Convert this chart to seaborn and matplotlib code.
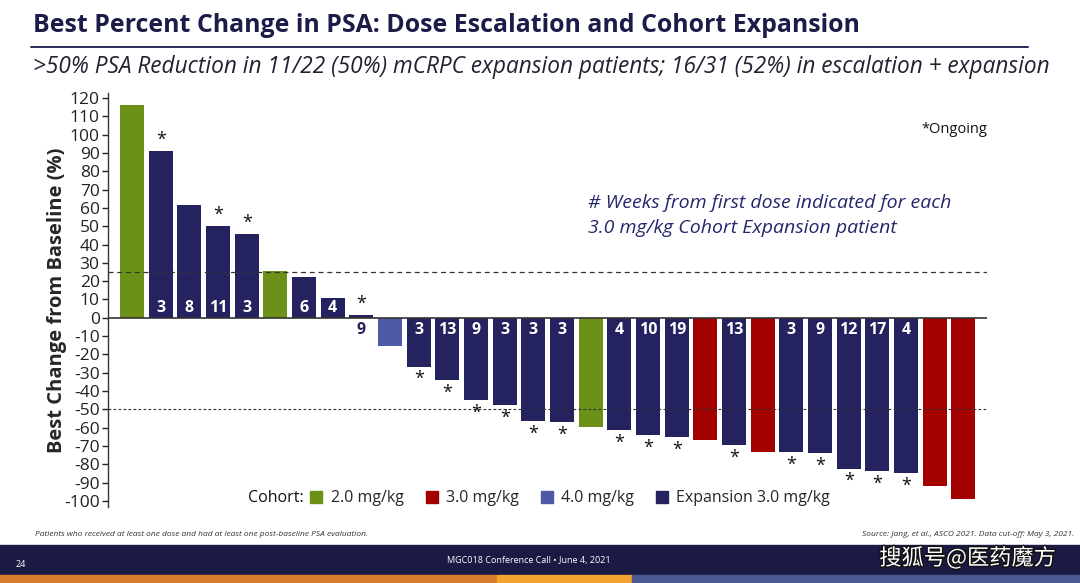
import matplotlib
matplotlib.use('Agg')
import matplotlib.pyplot as plt
import matplotlib.patheffects as pe
from matplotlib.lines import Line2D
from matplotlib.patches import Rectangle
import pandas as pd
import seaborn as sns

# Best % change in PSA per patient (waterfall order)
values = [116, 91, 61.5, 50, 46, 25.5, 22, 10.7, 1.8, -15.6,
          -26.6, -33.8, -44.7, -47.6, -56.5, -56.7, -59.3, -61.3, -63.8, -64.9,
          -66.7, -69.3, -73.3, -73.3, -73.6, -82.2, -83.5, -84.9, -91.5, -98.9]
cohorts = ['2.0', 'Exp', 'Exp', 'Exp', 'Exp', '2.0', 'Exp', 'Exp', 'Exp', '4.0',
           'Exp', 'Exp', 'Exp', 'Exp', 'Exp', 'Exp', '2.0', 'Exp', 'Exp', 'Exp',
           '3.0', 'Exp', '3.0', 'Exp', 'Exp', 'Exp', 'Exp', 'Exp', '3.0', '3.0']
# weeks from first dose (expansion patients only)
weeks = ['', '3', '8', '11', '3', '', '6', '4', '9', '',
         '3', '13', '9', '3', '3', '3', '', '4', '10', '19',
         '', '13', '', '3', '9', '12', '17', '4', '', '']
ongoing = [0, 1, 0, 1, 1, 0, 0, 0, 1, 0,
           1, 1, 1, 1, 1, 1, 0, 1, 1, 1,
           0, 1, 0, 1, 1, 1, 1, 1, 0, 0]
yticks = list(range(-100, 121, 10))

cohort_colors = {'2.0': '#6b9119', '3.0': '#a30000', '4.0': '#4f5aa6', 'Exp': '#24225f'}
legend_labels = ['2.0 mg/kg', '3.0 mg/kg', '4.0 mg/kg', 'Expansion 3.0 mg/kg']

df = pd.DataFrame({'patient': range(len(values)), 'change': values, 'cohort': cohorts})

sns.set_style('white')
plt.rcParams['font.family'] = ['Open Sans', 'DejaVu Sans']

fig = plt.figure(figsize=(10.8, 5.83), dpi=100)
ax = fig.add_axes([0.1, 0.131, 0.814, 0.709])

sns.barplot(data=df, x='patient', y='change', hue='cohort', palette=cohort_colors,
            dodge=False, width=0.84, legend=False, ax=ax, edgecolor='none', saturation=1)

ax.set_xlim(-0.84, 29.83)
ax.set_ylim(-103, 122.5)
ax.set_yticks(yticks)
ax.set_yticklabels([str(t) for t in yticks])
ax.tick_params(axis='y', labelsize=12.5, length=4, width=1, direction='out', pad=2,
               colors='#222222', left=True)
ax.set_xticks([])
ax.set_xlabel('')
ax.set_ylabel('Best Change from Baseline (%)', fontsize=14.5, fontweight='bold')
ax.yaxis.set_label_coords(-0.047, 0.5)
for s in ['top', 'right', 'bottom']:
    ax.spines[s].set_visible(False)
ax.spines['left'].set_color('#333333')
ax.spines['left'].set_linewidth(1)

ax.axhline(0, color='#333333', lw=1.2, zorder=3)
ax.axhline(25, color='#333333', lw=0.9, ls=(0, (4, 3)), zorder=3)
ax.axhline(-50, color='#333333', lw=0.8, ls=(0, (2.5, 2)), zorder=3)

for i, (v, w, o) in enumerate(zip(values, weeks, ongoing)):
    if w:
        if v > 4:
            ax.text(i, 5.5, w, ha='center', va='center', color='white', fontsize=11.5, fontweight='bold', zorder=4)
        elif v > 0:
            ax.text(i, -6.5, w, ha='center', va='center', color='#24225f', fontsize=11.5, fontweight='bold', zorder=4)
        else:
            ax.text(i, -6.5, w, ha='center', va='center', color='white', fontsize=11.5, fontweight='bold', zorder=4)
    if o:
        if v > 0:
            ax.text(i, v + 1, '*', ha='center', va='bottom', fontsize=13, color='#111111')
        else:
            ax.text(i, v - 2, '*', ha='center', va='top', fontsize=13, color='#111111')

ax.text(29.83, 103, '*Ongoing', ha='right', va='center', fontsize=10.5, color='#111111')
ax.text(15.9, 56, '# Weeks from first dose indicated for each\n3.0 mg/kg Cohort Expansion patient',
        ha='left', va='center', fontsize=14, style='italic', color='#23276b', linespacing=1.5)

# legend
handles = [Line2D([], [], marker='s', ls='', markersize=8, color=cohort_colors[k])
           for k in ['2.0', '3.0', '4.0', 'Exp']]
fig.text(0.23, 0.145, 'Cohort:', ha='left', va='center', fontsize=11.5, color='#111111')
fig.legend(handles, legend_labels, ncol=4, loc='center left', bbox_to_anchor=(0.287, 0.145),
           frameon=False, fontsize=11.5, handlelength=0.8, handletextpad=0.5, columnspacing=1.35,
           borderaxespad=0, borderpad=0)

# header
fig.text(0.031, 0.957, 'Best Percent Change in PSA: Dose Escalation and Cohort Expansion',
         ha='left', va='center', fontsize=17.9, fontweight='bold', color='#1c1c48')
fig.add_artist(Line2D([0.029, 0.952], [0.920, 0.920], color='#2a2a5a', lw=1.4))
fig.text(0.031, 0.885, '>50% PSA Reduction in 11/22 (50%) mCRPC expansion patients; 16/31 (52%) in escalation + expansion',
         ha='left', va='center', fontsize=16.3, style='italic', color='#222233')

# footer
fig.text(0.032, 0.084, 'Patients who received at least one dose and had at least one post-baseline PSA evaluation.',
         ha='left', va='center', fontsize=6, style='italic', color='#333333')
fig.text(0.995, 0.084, 'Source: Jang, et al., ASCO 2021. Data cut-off: May 3, 2021.',
         ha='right', va='center', fontsize=6, style='italic', color='#333333')
fig.add_artist(Rectangle((0, 0.0137), 1, 0.052, transform=fig.transFigure, color='#1b1a45', zorder=0))
fig.add_artist(Rectangle((0, 0), 0.46, 0.0137, transform=fig.transFigure, color='#d87a2c', zorder=0))
fig.add_artist(Rectangle((0.46, 0), 0.125, 0.0137, transform=fig.transFigure, color='#f2a22e', zorder=0))
fig.add_artist(Rectangle((0.585, 0), 0.415, 0.0137, transform=fig.transFigure, color='#4a5990', zorder=0))
fig.text(0.014, 0.031, '24', ha='left', va='center', fontsize=6.5, color='white')
fig.text(0.49, 0.038, 'MGC018 Conference Call • June 4, 2021', ha='center', va='center', fontsize=6.5, color='white')
fig.text(0.896, 0.043, '搜狐号@医药魔方', ha='center', va='center', fontsize=16, color='white',
         family=['Noto Sans CJK SC', 'DejaVu Sans'],
         path_effects=[pe.withStroke(linewidth=2, foreground='#111111')])

fig.savefig('out.png', dpi=100)
